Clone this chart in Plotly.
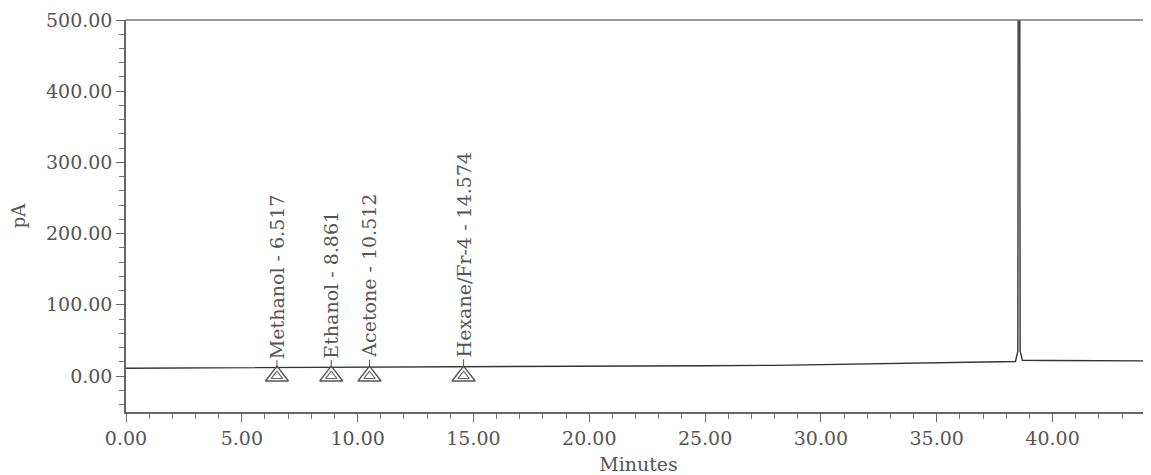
import numpy as np
import plotly.graph_objects as go

# Chromatogram trace (minutes, pA)
time_min = [0, 5, 10, 15, 20, 25, 28, 30, 32, 34, 36, 38.4, 38.5, 38.55, 38.6, 38.7, 40, 42, 44.3]
signal_pa = [11, 11.5, 12.3, 13, 13.8, 14.5, 15, 16, 17, 18, 19.5, 20.5, 35, 1500, 35, 22, 21.8, 21.5, 21.2]

# Peak identifications
peak_names = ["Methanol", "Ethanol", "Acetone", "Hexane/Fr-4"]
peak_times = [6.517, 8.861, 10.512, 14.574]
marker_level = [0, 0, 0, 0]

FONT = "DejaVu Serif"
TXT = "#555555"
LINE = "#333333"

fig = go.Figure()
fig.add_trace(go.Scatter(x=time_min, y=signal_pa, mode="lines",
                         line=dict(color=LINE, width=1.4), hoverinfo="skip"))
fig.add_trace(go.Scatter(x=peak_times, y=marker_level, mode="markers",
                         marker=dict(symbol="triangle-up-open", size=20,
                                     color="#555555", line=dict(width=1.4, color="#555555"))))
fig.add_trace(go.Scatter(x=peak_times, y=marker_level, mode="markers",
                         marker=dict(symbol="triangle-up-open", size=10,
                                     color="#666666", line=dict(width=1.1, color="#666666"))))

base_at_peaks = np.interp(peak_times, time_min, signal_pa)
for name, t, b in zip(peak_names, peak_times, base_at_peaks):
    # short tick from baseline to label
    fig.add_annotation(x=t, y=b, xref="x", yref="y", text="",
                       showarrow=True, arrowhead=0, arrowwidth=1, arrowcolor="#555555",
                       ax=0, ay=-9)
    fig.add_annotation(x=t, y=b, xref="x", yref="y",
                       text=f"{name} - {t:.3f}", textangle=-90,
                       showarrow=False, xanchor="center", yanchor="bottom", yshift=7,
                       font=dict(family=FONT, size=19, color=TXT))

fig.add_shape(type="line", xref="paper", yref="paper", x0=0, x1=1, y0=1, y1=1,
              line=dict(color="#777777", width=1.5))

fig.update_layout(
    width=1143, height=467,
    margin=dict(l=118, r=0, t=12, b=63),
    plot_bgcolor="white", paper_bgcolor="white",
    showlegend=False,
    xaxis=dict(range=[0, 44.25], tick0=0, dtick=5, tickformat=".2f",
               showgrid=False, zeroline=False, showline=True,
               linecolor="#666666", linewidth=1.5,
               ticks="outside", ticklen=8, tickcolor="#666666", tickwidth=1.3,
               minor=dict(dtick=1, ticks="outside", ticklen=5, tickcolor="#777777", tickwidth=1),
               tickfont=dict(family=FONT, size=19, color=TXT),
               title=dict(text="Minutes", font=dict(family=FONT, size=19, color=TXT), standoff=12),
               automargin=False),
    yaxis=dict(range=[-50.5, 500], tick0=0, dtick=100, tickformat=".2f",
               showgrid=False, zeroline=False, showline=True,
               linecolor="#666666", linewidth=1.5,
               ticks="outside", ticklen=8, tickcolor="#666666", tickwidth=1.3,
               minor=dict(dtick=20, ticks="outside", ticklen=5, tickcolor="#777777", tickwidth=1),
               tickfont=dict(family=FONT, size=19, color=TXT),
               title=dict(text="pA", font=dict(family=FONT, size=18, color=TXT), standoff=27),
               automargin=False),
)

fig.write_html("out.html")
